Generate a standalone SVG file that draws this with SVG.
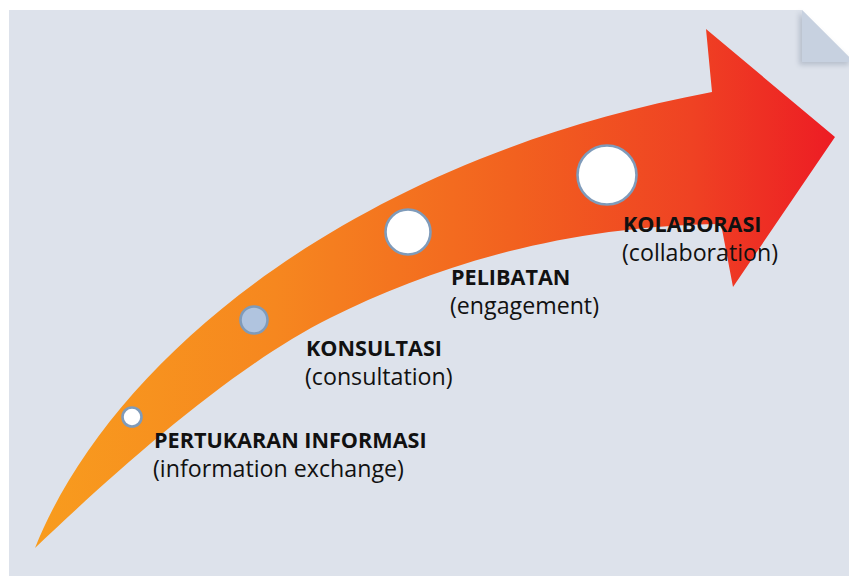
<svg xmlns="http://www.w3.org/2000/svg" width="849" height="576" viewBox="0 0 849 576">
<defs>
<linearGradient id="arrowGrad" gradientUnits="userSpaceOnUse" x1="35" y1="0" x2="835" y2="0">
<stop offset="0" stop-color="#f89c1e"/>
<stop offset="0.3" stop-color="#f6871f"/>
<stop offset="0.6" stop-color="#f2611f"/>
<stop offset="0.82" stop-color="#ef4223"/>
<stop offset="1" stop-color="#ed1c24"/>
</linearGradient>
<filter id="foldShadow" x="-30%" y="-30%" width="160%" height="160%">
<feGaussianBlur stdDeviation="2.5"/>
</filter>
<style>
.stage{fill:#ffffff;stroke:#7f9bba;stroke-width:2.6}
.stage-blue{fill:#b0c4df;stroke:#7f9bba;stroke-width:2.6}
.title{font-family:"Open Sans","Noto Sans","Liberation Sans",sans-serif;font-weight:700;font-size:21.6px;fill:#111111}
.sub{font-family:"Open Sans","Noto Sans","Liberation Sans",sans-serif;font-weight:400;font-size:23.2px;fill:#111111}
</style>
</defs>
<rect width="849" height="576" fill="#ffffff"/>
<g id="panel">
<polygon points="9,10 802,10 849,57 849,576 9,576" fill="#dde2eb"/>
<polygon points="799,12 799,65 849,65 849,60" fill="#8a96a8" opacity="0.45" filter="url(#foldShadow)"/>
<polygon points="802,10 802,62 849,62 849,57" fill="#c7d1e0"/>
</g>
<g id="arrow">
<path d="M35,548 C110,360 350,160 712,92 L706,29 L835,137 L733,287 L721,224 C560,226 430,268 330,318 C230,368 115,472 35,548 Z" fill="url(#arrowGrad)"/>
</g>
<g id="connectors"></g>
<g id="stage1">
<circle class="stage" cx="132" cy="417" r="9.5"/>
<text class="title" x="154" y="448">PERTUKARAN INFORMASI</text>
<text class="sub" x="153" y="477">(information exchange)</text>
</g>
<g id="stage2">
<circle class="stage-blue" cx="254" cy="320" r="13.5"/>
<text class="title" x="306" y="356">KONSULTASI</text>
<text class="sub" x="305" y="385">(consultation)</text>
</g>
<g id="stage3">
<circle class="stage" cx="408" cy="232" r="22.5"/>
<text class="title" x="451" y="285">PELIBATAN</text>
<text class="sub" x="450" y="314">(engagement)</text>
</g>
<g id="stage4">
<circle class="stage" cx="607" cy="175" r="29.5"/>
<text class="title" x="623" y="232">KOLABORASI</text>
<text class="sub" x="622" y="261">(collaboration)</text>
</g>
</svg>
